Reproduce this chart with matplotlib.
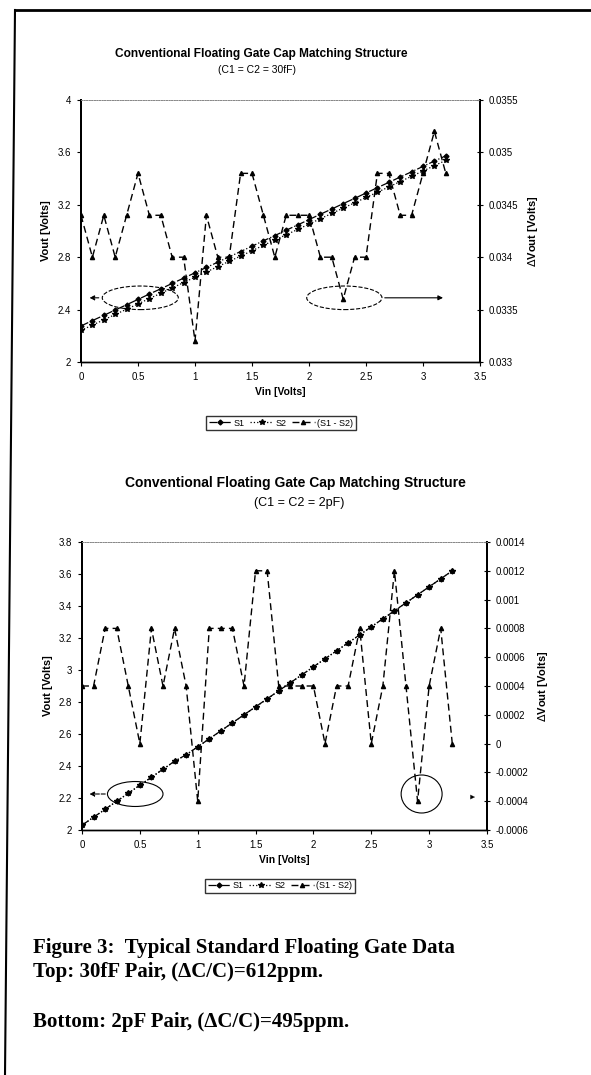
import matplotlib
matplotlib.use("Agg")
import matplotlib.pyplot as plt
from matplotlib.patches import Ellipse
from matplotlib.lines import Line2D

# input sweep (Volts)
vin = [0.0, 0.1, 0.2, 0.3, 0.4, 0.5, 0.6, 0.7, 0.8, 0.9, 1.0,
       1.1, 1.2, 1.3, 1.4, 1.5, 1.6, 1.7, 1.8, 1.9, 2.0,
       2.1, 2.2, 2.3, 2.4, 2.5, 2.6, 2.7, 2.8, 2.9, 3.0,
       3.1, 3.2]

# top: C1 = C2 = 30fF
s1_top = [2.275, 2.316, 2.356, 2.397, 2.437, 2.478, 2.519, 2.559, 2.600, 2.640, 2.681,
          2.722, 2.762, 2.803, 2.843, 2.884, 2.925, 2.965, 3.006, 3.046, 3.087,
          3.128, 3.168, 3.209, 3.249, 3.290, 3.331, 3.371, 3.412, 3.452, 3.493,
          3.534, 3.574]
s2_top = [2.2406, 2.2820, 2.3216, 2.3630, 2.4026, 2.4432, 2.4846, 2.5246, 2.5660, 2.6060, 2.6478,
          2.6876, 2.7280, 2.7690, 2.8082, 2.8492, 2.8906, 2.9310, 2.9716, 3.0116, 3.0526,
          3.0940, 3.1340, 3.1754, 3.2150, 3.2560, 3.2962, 3.3362, 3.3776, 3.4176, 3.4582,
          3.4988, 3.5392]
d_top = [0.0344, 0.0340, 0.0344, 0.0340, 0.0344, 0.0348, 0.0344, 0.0344, 0.0340, 0.0340, 0.0332,
         0.0344, 0.0340, 0.0340, 0.0348, 0.0348, 0.0344, 0.0340, 0.0344, 0.0344, 0.0344,
         0.0340, 0.0340, 0.0336, 0.0340, 0.0340, 0.0348, 0.0348, 0.0344, 0.0344, 0.0348,
         0.0352, 0.0348]

# bottom: C1 = C2 = 2pF
s1_bot = [2.03, 2.08, 2.13, 2.18, 2.23, 2.28, 2.33, 2.38, 2.43, 2.47, 2.52,
          2.57, 2.62, 2.67, 2.72, 2.77, 2.82, 2.87, 2.92, 2.97, 3.02,
          3.07, 3.12, 3.17, 3.22, 3.27, 3.32, 3.37, 3.42, 3.47, 3.52,
          3.57, 3.62]
s2_bot = [2.0296, 2.0796, 2.1292, 2.1792, 2.2296, 2.2800, 2.3292, 2.3796, 2.4292, 2.4696, 2.5204,
          2.5692, 2.6192, 2.6692, 2.7196, 2.7688, 2.8188, 2.8696, 2.9196, 2.9696, 3.0196,
          3.0700, 3.1196, 3.1696, 3.2192, 3.2700, 3.3196, 3.3688, 3.4196, 3.4704, 3.5196,
          3.5692, 3.6200]
d_bot = [0.0004, 0.0004, 0.0008, 0.0008, 0.0004, 0.0, 0.0008, 0.0004, 0.0008, 0.0004, -0.0004,
         0.0008, 0.0008, 0.0008, 0.0004, 0.0012, 0.0012, 0.0004, 0.0004, 0.0004, 0.0004,
         0.0, 0.0004, 0.0004, 0.0008, 0.0, 0.0004, 0.0012, 0.0004, -0.0004, 0.0004,
         0.0008, 0.0]

x_ticks = [0, 0.5, 1, 1.5, 2, 2.5, 3, 3.5]
x_labels = ["0", "0.5", "1", "1.5", "2", "2.5", "3", "3.5"]
top_left_ticks = [2, 2.4, 2.8, 3.2, 3.6, 4]
top_right_ticks = [0.033, 0.0335, 0.034, 0.0345, 0.035, 0.0355]
top_right_labels = ["0.033", "0.0335", "0.034", "0.0345", "0.035", "0.0355"]
bot_left_ticks = [2, 2.2, 2.4, 2.6, 2.8, 3, 3.2, 3.4, 3.6, 3.8]
bot_right_ticks = [-0.0006, -0.0004, -0.0002, 0, 0.0002, 0.0004, 0.0006, 0.0008, 0.001, 0.0012, 0.0014]
bot_right_labels = ["-0.0006", "-0.0004", "-0.0002", "0", "0.0002", "0.0004", "0.0006",
                    "0.0008", "0.001", "0.0012", "0.0014"]

sans = ["Liberation Sans Narrow", "Liberation Sans", "DejaVu Sans"]
plt.rcParams["font.family"] = sans

W, H = 591, 1075
fig = plt.figure(figsize=(W / 100, H / 100), dpi=100)


def fx(px):
    return px / W


def fy(py):
    return 1 - py / H


def draw_panel(rect, s1, s2, d, lticks, ylim, rticks, rlabels, rlim, lpos, rpos):
    ax = fig.add_axes(rect)
    ax.plot(vin, s1, color="black", lw=0.9, ls="-.", marker="D", ms=2.5, label="S1")
    ax.plot(vin, s2, color="black", lw=0.9, ls=":", marker="*", ms=4, label="S2")
    ax.set_xlim(0, 3.5)
    ax.set_ylim(*ylim)
    ax.set_xticks(x_ticks)
    ax.set_xticklabels(x_labels)
    ax.set_yticks(lticks)
    ax.set_yticklabels([f"{t:g}" for t in lticks])
    axr = ax.twinx()
    axr.plot(vin, d, color="black", lw=1.0, ls=(0, (5, 3)), marker="^", ms=3,
             label="(S1 - S2)")
    axr.set_ylim(*rlim)
    axr.set_yticks(rticks)
    axr.set_yticklabels(rlabels)
    for a in (ax, axr):
        a.spines["top"].set_linestyle(":")
        a.spines["top"].set_color("#888888")
        a.spines["top"].set_linewidth(0.7)
        a.spines["left"].set_linewidth(1.4)
        a.spines["right"].set_linewidth(1.4)
        a.spines["bottom"].set_linewidth(1.0)
        a.tick_params(labelsize=7, length=3, width=0.8, pad=4)
    axr.tick_params(direction="inout", length=5)
    ax.set_xlabel("Vin [Volts]", fontsize=7.5, fontweight="bold", labelpad=4)
    ax.set_ylabel("Vout [Volts]", fontsize=8, fontweight="bold")
    axr.set_ylabel(r"$\Delta$Vout [Volts]", fontsize=8, fontweight="bold")
    ax.yaxis.set_label_coords(lpos, 0.5)
    axr.yaxis.set_label_coords(rpos, 0.5)
    return ax, axr


# ---- top panel ----
ax1, ax1r = draw_panel([fx(81), fy(362), (480 - 81) / W, (362 - 100) / H],
                       s1_top, s2_top, d_top, top_left_ticks, (2, 4),
                       top_right_ticks, top_right_labels, (0.033, 0.0355),
                       -0.075, 1.115)

fig.text(fx(261), fy(54), "Conventional Floating Gate Cap Matching Structure",
         ha="center", va="center", fontsize=8.6, fontweight="bold")
fig.text(fx(257), fy(70), "(C1 = C2 = 30fF)", ha="center", va="center", fontsize=7.5)

ax1.add_patch(Ellipse((0.52, 2.49), 0.667, 0.18, fill=False, ls="--", lw=0.8))
ax1.annotate("", xy=(0.05, 2.49), xytext=(0.18, 2.49),
             arrowprops=dict(arrowstyle="-|>", ls="--", lw=0.8, color="black",
                             mutation_scale=7))
ax1.add_patch(Ellipse((2.31, 2.49), 0.66, 0.18, fill=False, ls="--", lw=0.8))
ax1.annotate("", xy=(3.2, 2.49), xytext=(2.64, 2.49),
             arrowprops=dict(arrowstyle="-|>", lw=0.8, color="black", mutation_scale=7))

h1, l1 = ax1.get_legend_handles_labels()
h2, l2 = ax1r.get_legend_handles_labels()
fig.legend(h1 + h2, l1 + l2, loc="center", bbox_to_anchor=(fx(281), fy(423)), ncol=3,
           fontsize=6.5, frameon=True, fancybox=False, edgecolor="black",
           handlelength=2.5, columnspacing=0.6, handletextpad=0.3, borderpad=0.25,
           borderaxespad=0)

# ---- bottom panel ----
ax2, ax2r = draw_panel([fx(82), fy(830), (487 - 82) / W, (830 - 542) / H],
                       s1_bot, s2_bot, d_bot, bot_left_ticks, (2, 3.8),
                       bot_right_ticks, bot_right_labels, (-0.0006, 0.0014),
                       -0.072, 1.12)

fig.text(fx(295), fy(483), "Conventional Floating Gate Cap Matching Structure",
         ha="center", va="center", fontsize=10, fontweight="bold")
fig.text(fx(299), fy(503), "(C1 = C2 = 2pF)", ha="center", va="center", fontsize=9)

ax2.add_patch(Ellipse((0.46, 2.225), 0.48, 0.156, fill=False, lw=0.8))
ax2.annotate("", xy=(0.04, 2.225), xytext=(0.225, 2.225),
             arrowprops=dict(arrowstyle="-|>", ls="--", lw=0.8, color="black",
                             mutation_scale=7))
ax2.add_patch(Ellipse((2.935, 2.225), 0.354, 0.2375, fill=False, lw=0.8))
ax2.annotate("", xy=(3.42, 2.206), xytext=(3.33, 2.206),
             arrowprops=dict(arrowstyle="-|>", lw=0.1, color="black", mutation_scale=8))

h1, l1 = ax2.get_legend_handles_labels()
h2, l2 = ax2r.get_legend_handles_labels()
fig.legend(h1 + h2, l1 + l2, loc="center", bbox_to_anchor=(fx(280), fy(886)), ncol=3,
           fontsize=6.5, frameon=True, fancybox=False, edgecolor="black",
           handlelength=2.5, columnspacing=0.6, handletextpad=0.3, borderpad=0.25,
           borderaxespad=0)

# ---- page frame and caption ----
fig.add_artist(Line2D([fx(15), fx(591)], [fy(10), fy(10)], color="black", lw=2))
fig.add_artist(Line2D([fx(15), fx(5)], [fy(10), fy(1075)], color="black", lw=1.5))

serif = ["Liberation Serif", "DejaVu Serif"]
fig.text(fx(33), fy(948), "Figure 3:  Typical Standard Floating Gate Data",
         family=serif, fontsize=15, fontweight="bold", va="center")
fig.text(fx(33), fy(972), "Top: 30fF Pair, (\u0394C/C)=612ppm.",
         family=serif, fontsize=15, fontweight="bold", va="center")
fig.text(fx(33), fy(1022), "Bottom: 2pF Pair, (\u0394C/C)=495ppm.",
         family=serif, fontsize=15, fontweight="bold", va="center")

fig.savefig("out.png", dpi=100)
